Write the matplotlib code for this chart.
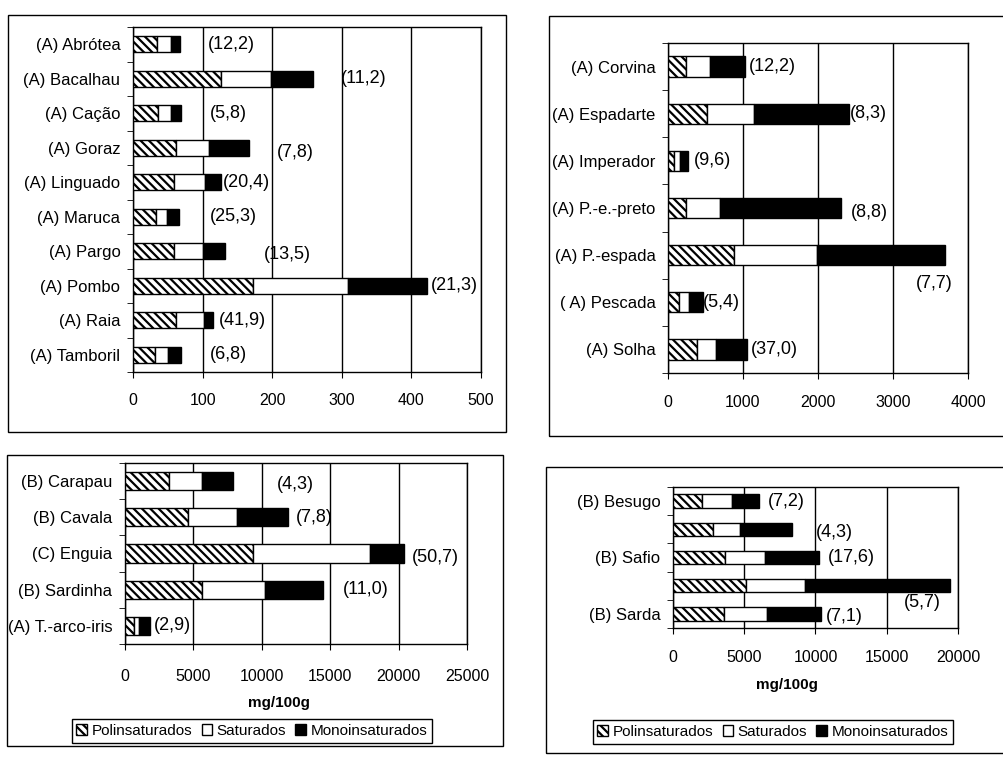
import matplotlib
matplotlib.use('Agg')
import matplotlib.pyplot as plt
import numpy as np
from matplotlib.patches import Patch, Rectangle

plt.rcParams['font.family'] = ['Liberation Sans', 'DejaVu Sans']
plt.rcParams['hatch.linewidth'] = 1.6

# top left: lean fish (mg/100g)
names_1 = ['(A) Abrótea', '(A) Bacalhau', '(A) Cação', '(A) Goraz', '(A) Linguado',
           '(A) Maruca', '(A) Pargo', '(A) Pombo', '(A) Raia', '(A) Tamboril']
poli_1 = [35, 126, 36, 62, 59, 33, 59, 173, 62, 32]
sat_1 = [20, 72, 18, 47, 44, 16, 41, 136, 40, 19]
mono_1 = [12, 61, 15, 58, 24, 17, 32, 114, 13, 18]
notes_1 = ['(12,2)', '(11,2)', '(5,8)', '(7,8)', '(20,4)',
           '(25,3)', '(13,5)', '(21,3)', '(41,9)', '(6,8)']

# top right
names_2 = ['(A) Corvina', '(A) Espadarte', '(A) Imperador', '(A) P.-e.-preto',
           '(A) P.-espada', '( A) Pescada', '(A) Solha']
poli_2 = [244, 520, 80, 240, 876, 151, 391]
sat_2 = [316, 627, 80, 453, 1116, 124, 244]
mono_2 = [467, 1262, 102, 1618, 1698, 187, 413]
notes_2 = ['(12,2)', '(8,3)', '(9,6)', '(8,8)', '(7,7)', '(5,4)', '(37,0)']

# bottom left
names_3 = ['(B) Carapau', '(B) Cavala', '(C) Enguia', '(B) Sardinha', '(A) T.-arco-iris']
poli_3 = [3220, 4585, 9390, 5660, 660]
sat_3 = [2390, 3585, 8537, 4585, 366]
mono_3 = [2317, 3780, 2463, 4220, 805]
notes_3 = ['(4,3)', '(7,8)', '(50,7)', '(11,0)', '(2,9)']

# bottom right (two rows carry no name)
names_4 = ['(B) Besugo', '', '(B) Safio', '', '(B) Sarda']
poli_4 = [2030, 2780, 3620, 5140, 3550]
sat_4 = [2100, 1890, 2870, 4090, 3040]
mono_4 = [1915, 3670, 3740, 10210, 3785]
notes_4 = ['(7,2)', '(4,3)', '(17,6)', '(5,7)', '(7,1)']

legend_labels = ['Polinsaturados', 'Saturados', 'Monoinsaturados']

HATCH = '\\' * 4

W, H = 1004, 757
fig = plt.figure(figsize=(W / 100, H / 100), dpi=100)


def px(left, top, right, bottom):
    return [left / W, 1 - bottom / H, (right - left) / W, (bottom - top) / H]


def draw_panel(rect, names, poli, sat, mono, notes, note_x, note_dy,
               xmax, step, pad, bar_h):
    ax = fig.add_axes(rect)
    y = np.arange(len(names))
    ax.barh(y, poli, height=bar_h, color='white', edgecolor='black',
            hatch=HATCH, lw=1, zorder=3)
    ax.barh(y, sat, left=poli, height=bar_h, color='white',
            edgecolor='black', lw=1, zorder=3)
    ax.barh(y, mono, left=np.add(poli, sat), height=bar_h, color='black',
            edgecolor='black', lw=1, zorder=3)
    for i, t in enumerate(notes):
        ax.text(note_x[i], y[i] + note_dy[i], t, ha='left', va='center',
                fontsize=13, zorder=4)
    ax.set_xlim(0, xmax)
    ax.set_xticks(np.arange(0, xmax + 1, step))
    ax.set_ylim(len(names) - 0.5, -0.5)
    ax.set_yticks(y, names)
    ax.set_yticks(np.arange(len(names) + 1) - 0.5, minor=True)
    ax.tick_params(axis='y', which='major', length=0, pad=9, labelsize=12)
    ax.tick_params(axis='y', which='minor', length=4, direction='out')
    ax.tick_params(axis='x', length=4, direction='out', pad=pad, labelsize=11.5)
    ax.grid(axis='x', color='black', lw=1, zorder=1)
    for s in ax.spines.values():
        s.set_linewidth(1)
    return ax


draw_panel(px(133, 27, 481, 372), names_1, poli_1, sat_1, mono_1, notes_1,
           [108, 298, 110, 206, 129, 110, 188, 428, 123, 110],
           [0, 0, 0, 0.15, 0, 0, 0.1, 0, 0, 0],
           500, 100, 11, 0.45)

draw_panel(px(668, 43, 968, 373), names_2, poli_2, sat_2, mono_2, notes_2,
           [1080, 2430, 340, 2440, 3300, 470, 1110],
           [0, 0, 0, 0.1, 0.6, 0, 0],
           4000, 1000, 12, 0.43)

ax3 = draw_panel(px(125, 463, 467, 644), names_3, poli_3, sat_3, mono_3, notes_3,
                 [11100, 12500, 21000, 15900, 2100],
                 [0.1, 0, 0.1, 0, 0],
                 25000, 5000, 14, 0.5)
ax3.set_xlabel('mg/100g', fontsize=11, fontweight='bold')
ax3.xaxis.set_label_coords(0.45, -0.29)

ax4 = draw_panel(px(673, 487, 958, 628), names_4, poli_4, sat_4, mono_4, notes_4,
                 [6630, 10000, 10900, 16200, 10700],
                 [0, 0.1, 0, 0.6, 0.1],
                 20000, 5000, 12, 0.47)
ax4.set_xlabel('mg/100g', fontsize=11, fontweight='bold')
ax4.xaxis.set_label_coords(0.40, -0.355)

# outer chart frames
for l, t, r, b in [(8, 15, 506, 432), (549, 16, 1010, 436),
                   (7, 455, 503, 746), (546, 467, 1010, 753)]:
    fig.add_artist(Rectangle((l / W, 1 - b / H), (r - l) / W, (b - t) / H,
                             transform=fig.transFigure, fill=False,
                             ec='black', lw=1))

handles = [Patch(facecolor='white', edgecolor='black', hatch=HATCH),
           Patch(facecolor='white', edgecolor='black'),
           Patch(facecolor='black', edgecolor='black')]
for cx, cy in [(252 / W, 1 - 731 / H), (773 / W, 1 - 732 / H)]:
    leg = fig.legend(handles, legend_labels, loc='center', bbox_to_anchor=(cx, cy),
                     ncol=3, fontsize=11, frameon=True, fancybox=False,
                     edgecolor='black', framealpha=1, handlelength=0.7,
                     handleheight=0.7, handletextpad=0.3, columnspacing=0.6,
                     borderpad=0.3, borderaxespad=0)
    leg.get_frame().set_linewidth(1)

fig.savefig('out.png', dpi=100)
